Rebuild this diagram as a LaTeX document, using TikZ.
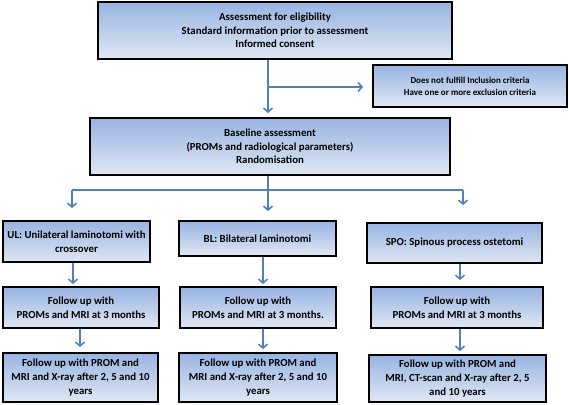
\documentclass[tikz,border=0pt]{standalone}
\usepackage{fontspec}
\setmainfont{Carlito}
\usetikzlibrary{arrows.meta}
\definecolor{arrowblue}{RGB}{79,129,189}
\definecolor{boxtop}{RGB}{151,180,226}
\definecolor{boxbot}{RGB}{224,231,243}
\begin{document}
\begin{tikzpicture}[x=1pt,y=-1pt,
  box/.style={draw=black,line width=1.7pt,top color=boxtop,bottom color=boxbot,
    align=center,inner sep=1pt,font=\fontsize{10.8}{13.6}\selectfont\bfseries},
  arr/.style={draw=arrowblue,line width=1.6pt,-{Straight Barb[length=4pt,width=9pt,line width=1.6pt]}},
  ln/.style={draw=arrowblue,line width=1.6pt}]
\useasboundingbox (0,0) rectangle (569,404);
\node[box,minimum width=354pt,minimum height=57pt] (top) at (275,30.5)
  {Assessment for eligibility\\Standard information prior to assessment\\Informed consent};
\node[box,minimum width=194pt,minimum height=42pt,font=\fontsize{9}{12}\selectfont\bfseries] (excl) at (470,86)
  {Does not fulfill Inclusion criteria\\Have one or more exclusion criteria};
\node[box,minimum width=360pt,minimum height=57pt] (base) at (270,146.5)
  {Baseline assessment\\(PROMs and radiological parameters)\\Randomisation};
\node[box,minimum width=147pt,minimum height=41pt] (ul1) at (76.5,241.5)
  {UL: Unilateral laminotomi with\\crossover};
\node[box,minimum width=157pt,minimum height=35pt] (bl1) at (257.5,238.5)
  {BL: Bilateral laminotomi};
\node[box,minimum width=175pt,minimum height=40pt] (spo1) at (454.5,243)
  {SPO: Spinous process ostetomi};
\node[box,minimum width=156pt,minimum height=41pt] (ul2) at (81,307.5)
  {Follow up with\\PROMs and MRI at 3 months};
\node[box,minimum width=156pt,minimum height=41pt] (bl2) at (258,307.5)
  {Follow up with\\PROMs and MRI at 3 months.};
\node[box,minimum width=172pt,minimum height=41pt] (spo2) at (457,307.5)
  {Follow up with\\PROMs and MRI at 3 months};
\node[box,minimum width=155pt,minimum height=49pt] (ul3) at (80.5,377.5)
  {Follow up with PROM and\\MRI and X-ray after 2, 5 and 10\\years};
\node[box,minimum width=158pt,minimum height=49pt] (bl3) at (258,377.5)
  {Follow up with PROM and\\MRI and X-ray after 2, 5 and 10\\years};
\node[box,minimum width=177pt,minimum height=47pt] (spo3) at (457.5,378.5)
  {Follow up with PROM and\\MRI, CT-scan and X-ray after 2, 5\\and 10 years};
% coordinates
\coordinate (tx) at (268,0);
\coordinate (bx) at (87,87);
\coordinate (hl) at (72,190);
\coordinate (hr) at (463,190);
\coordinate (ulx) at (73,0);
\coordinate (ulx2) at (80,0);
\coordinate (blx) at (263,0);
\coordinate (spx) at (460,0);
% top to baseline
\draw[arr,shorten >=4pt] (top.south -| tx) -- (base.north -| tx);
\draw[arr,shorten >=9pt] (bx -| tx) -- (excl.west |- bx);
% baseline to branches
\draw[ln] (base.south -| tx) -- (hl -| tx);
\draw[ln] (hl) -- (hr);
\draw[arr,shorten >=12pt] (hl) -- (ul1.north -| hl);
\draw[arr,shorten >=9pt] (hl -| tx) -- (bl1.north -| tx);
\draw[arr,shorten >=17pt] (hr) -- (spo1.north -| hr);
% columns
\draw[arr,shorten >=2pt] (ul1.south -| ulx) -- (ul2.north -| ulx);
\draw[arr,shorten >=5pt] (ul2.south -| ulx2) -- (ul3.north -| ulx2);
\draw[arr,shorten >=2pt] (bl1.south -| blx) -- (bl2.north -| blx);
\draw[arr,shorten >=3pt] (bl2.south -| blx) -- (bl3.north -| blx);
\draw[arr,shorten >=6pt] (spo1.south -| spx) -- (spo2.north -| spx);
\draw[arr,shorten >=3pt] (spo2.south -| spx) -- (spo3.north -| spx);
\end{tikzpicture}
\end{document}
